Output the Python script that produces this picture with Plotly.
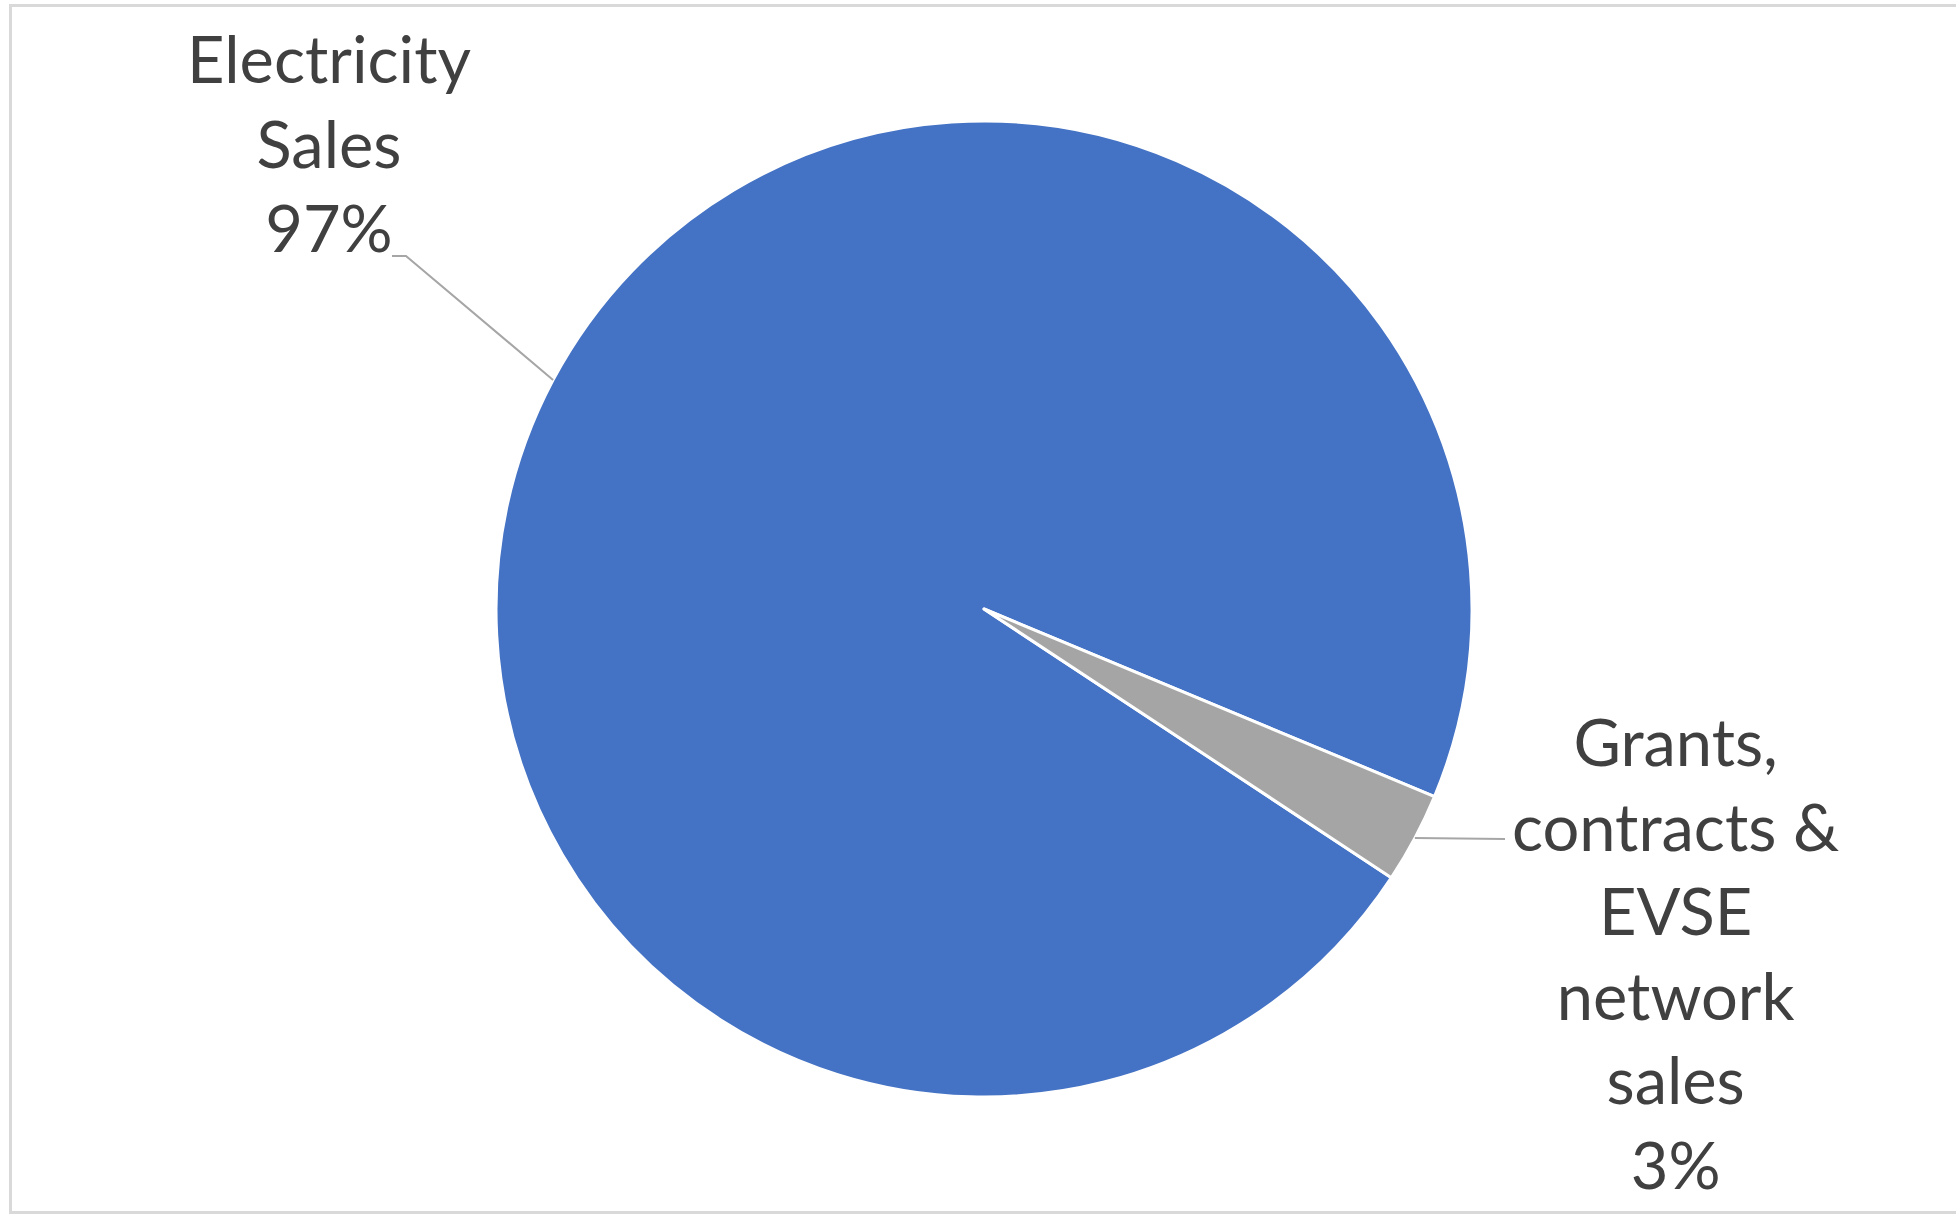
import math
import plotly.graph_objects as go

# Revenue split
labels = ["Electricity Sales", "Grants, contracts & EVSE network sales"]
label_text = ["Electricity<br>Sales<br>97%", "Grants,<br>contracts &<br>EVSE<br>network<br>sales<br>3%"]
values = [97, 3]
colors = ["#4472C4", "#A5A5A5"]

W, H = 1956, 1215
CX, CY, R = 984, 609, 488          # pie centre and radius in pixels
ROTATION = 123.4                     # start angle, degrees clockwise from 12 o'clock
TEXT_COLOR = "#404040"
FONT = "Lato"

fig = go.Figure(go.Pie(
    labels=labels,
    values=values,
    marker=dict(colors=colors, line=dict(color="white", width=3)),
    sort=False,
    direction="clockwise",
    rotation=ROTATION,
    textinfo="none",
    hoverinfo="label+percent",
    showlegend=False,
    domain=dict(x=[(CX - R) / W, (CX + R) / W],
                y=[1 - (CY + R) / H, 1 - (CY - R) / H]),
))


def px(x):
    return x / W


def py(y):
    return 1 - y / H


def edge_point(angle_deg):
    a = math.radians(angle_deg)
    return CX + R * math.sin(a), CY - R * math.cos(a)


# mid-angle of each slice, following the pie's own ordering
total = sum(values)
mids = []
start = ROTATION
for v in values:
    span = 360 * v / total
    mids.append(start + span / 2)
    start += span

# leader-line elbows and label placement (pixels)
elbows = [[(406, 256), (392, 256)], [(1505, 839)]]
label_pos = [(329, 142, "middle"), (1675, 952, "middle")]

shapes = []
for mid, pts in zip(mids, elbows):
    ex, ey = edge_point(mid)
    path = [(ex, ey)] + pts
    d = "M " + " L ".join(f"{px(x):.5f},{py(y):.5f}" for x, y in path)
    shapes.append(dict(type="path", xref="paper", yref="paper", path=d,
                       line=dict(color="#A6A6A6", width=2)))

# chart area border
shapes.append(dict(type="rect", xref="paper", yref="paper",
                   x0=px(10.5), x1=px(W + 5), y0=py(5.5), y1=py(1212.5),
                   line=dict(color="#D9D9D9", width=3), fillcolor="rgba(0,0,0,0)"))

annotations = []
for txt, (x, y, anchor) in zip(label_text, label_pos):
    annotations.append(dict(
        x=px(x), y=py(y), xref="paper", yref="paper",
        text=txt, showarrow=False, align="center",
        xanchor="center", yanchor=anchor,
        font=dict(family=FONT, size=65, color=TEXT_COLOR),
    ))

fig.update_layout(
    width=W, height=H,
    margin=dict(l=0, r=0, t=0, b=0),
    paper_bgcolor="white",
    plot_bgcolor="white",
    shapes=shapes,
    annotations=annotations,
)

fig.write_html("out.html")
